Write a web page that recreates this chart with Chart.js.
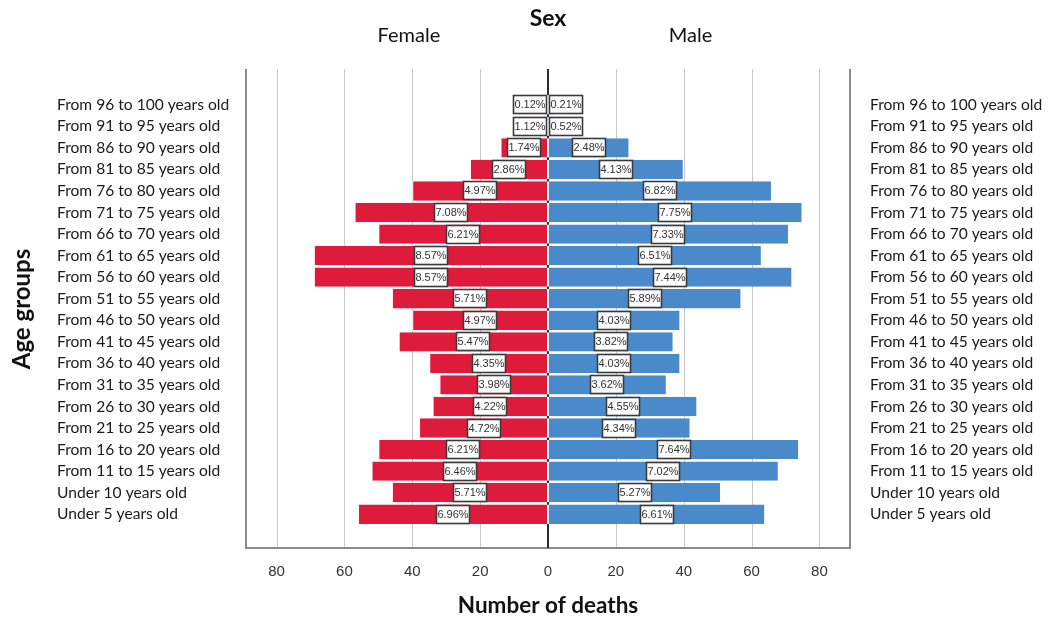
<!DOCTYPE html>
<html><head><meta charset="utf-8">
<script src="https://cdn.jsdelivr.net/npm/chart.js@4.4.1/dist/chart.umd.min.js"></script>
<style>html,body{margin:0;padding:0;background:#fff}#wrap{width:1052px;height:618px}</style>
</head><body><div id="wrap"><canvas id="c" width="1052" height="618"></canvas></div>
<script>
const ageGroups = [
  "From 96 to 100 years old","From 91 to 95 years old","From 86 to 90 years old",
  "From 81 to 85 years old","From 76 to 80 years old","From 71 to 75 years old",
  "From 66 to 70 years old","From 61 to 65 years old","From 56 to 60 years old",
  "From 51 to 55 years old","From 46 to 50 years old","From 41 to 45 years old",
  "From 36 to 40 years old","From 31 to 35 years old","From 26 to 30 years old",
  "From 21 to 25 years old","From 16 to 20 years old","From 11 to 15 years old",
  "Under 10 years old","Under 5 years old"
];
const femaleDeaths = [1, 9, 14, 23, 40, 57, 50, 69, 69, 46, 40, 44, 35, 32, 34, 38, 50, 52, 46, 56];
const maleDeaths   = [2, 5, 24, 40, 66, 75, 71, 63, 72, 57, 39, 37, 39, 35, 44, 42, 74, 68, 51, 64];
const femalePct = ["0.12%","1.12%","1.74%","2.86%","4.97%","7.08%","6.21%","8.57%","8.57%","5.71%",
                   "4.97%","5.47%","4.35%","3.98%","4.22%","4.72%","6.21%","6.46%","5.71%","6.96%"];
const malePct   = ["0.21%","0.52%","2.48%","4.13%","6.82%","7.75%","7.33%","6.51%","7.44%","5.89%",
                   "4.03%","3.82%","4.03%","3.62%","4.55%","4.34%","7.64%","7.02%","5.27%","6.61%"];
const xTickValues = [-80, -60, -40, -20, 0, 20, 40, 60, 80];
const sexLabels = ["Female", "Male"];
const chartTitle = "Sex";
const xTitle = "Number of deaths";
const yTitle = "Age groups";

const FONT = 'Lato, "Open Sans", sans-serif';
const FRAME_TOP = 69, FRAME_BOTTOM = 548;

const decor = {
  id: 'decor',
  beforeDatasetsDraw(chart) {
    const {ctx, chartArea, scales: {x}} = chart;
    ctx.save();
    ctx.strokeStyle = '#c8c8c8'; ctx.lineWidth = 1;
    xTickValues.forEach(v => {
      if (v === 0) return;
      const px = Math.round(x.getPixelForValue(v)) + 0.5;
      ctx.beginPath(); ctx.moveTo(px, FRAME_TOP); ctx.lineTo(px, FRAME_BOTTOM); ctx.stroke();
    });
    ctx.strokeStyle = '#8a8a8a'; ctx.lineWidth = 2;
    ctx.beginPath();
    ctx.moveTo(chartArea.left, FRAME_TOP); ctx.lineTo(chartArea.left, FRAME_BOTTOM);
    ctx.lineTo(chartArea.right, FRAME_BOTTOM); ctx.lineTo(chartArea.right, FRAME_TOP);
    ctx.stroke();
    const zx = x.getPixelForValue(0);
    ctx.strokeStyle = '#2b2b2b'; ctx.lineWidth = 2;
    ctx.beginPath(); ctx.moveTo(zx, FRAME_TOP); ctx.lineTo(zx, FRAME_BOTTOM); ctx.stroke();
    ctx.restore();
  },
  afterDatasetsDraw(chart) {
    const {ctx} = chart;
    const W = 34, H = 19;
    ctx.save();
    ctx.font = '11px "Liberation Sans Narrow", "Arial Narrow", "Liberation Sans", sans-serif';
    ctx.textAlign = 'center'; ctx.textBaseline = 'middle';
    [femalePct, malePct].forEach((pcts, di) => {
      const meta = chart.getDatasetMeta(di);
      meta.data.forEach((bar, i) => {
        let cx = (bar.x + bar.base) / 2;
        if (di === 0) cx = Math.min(cx, bar.base - 1 - W / 2);
        else cx = Math.max(cx, bar.base + 1 + W / 2);
        const left = Math.round(cx - W / 2), top = Math.round(bar.y - H / 2);
        ctx.fillStyle = '#ffffff';
        ctx.fillRect(left, top, W, H);
        ctx.strokeStyle = '#3a3a3a'; ctx.lineWidth = 1.6;
        ctx.strokeRect(left + 0.5, top + 0.5, W - 1, H - 1);
        ctx.fillStyle = '#333';
        ctx.fillText(pcts[i], left + W / 2, top + H / 2 + 0.5);
      });
    });
    ctx.restore();
  },
  afterDraw(chart) {
    const {ctx, scales: {x}} = chart;
    const zx = x.getPixelForValue(0);
    ctx.save();
    ctx.fillStyle = '#111';
    ctx.textAlign = 'center'; ctx.textBaseline = 'middle';
    ctx.font = 'bold 23px ' + FONT;
    ctx.fillText(chartTitle, zx, 19);
    ctx.font = '20px ' + FONT;
    ctx.fillText(sexLabels[0], x.getPixelForValue(-41), 36);
    ctx.fillText(sexLabels[1], x.getPixelForValue(42), 36);
    ctx.font = 'bold 22.5px ' + FONT;
    ctx.fillText(xTitle, zx, 606);
    ctx.font = 'bold 24px ' + FONT;
    ctx.translate(22, 309); ctx.rotate(-Math.PI / 2);
    ctx.fillText(yTitle, 0, 0);
    ctx.restore();
  }
};

new Chart(document.getElementById('c'), {
  type: 'bar',
  data: {
    labels: ageGroups,
    datasets: [
      { label: sexLabels[0], data: femaleDeaths.map(v => -v), backgroundColor: '#df1b3b' },
      { label: sexLabels[1], data: maleDeaths, backgroundColor: '#4a8acb' }
    ]
  },
  options: {
    indexAxis: 'y',
    responsive: false,
    animation: false,
    devicePixelRatio: 1,
    layout: { padding: { left: 57, right: 0, top: 94, bottom: 0 } },
    datasets: { bar: {
      barPercentage: 0.9, categoryPercentage: 1,
      borderColor: '#ffffff', borderWidth: {left: 1, right: 1, top: 0, bottom: 0}, borderSkipped: false
    } },
    plugins: { legend: { display: false }, tooltip: { enabled: false }, title: { display: false } },
    scales: {
      x: {
        type: 'linear', stacked: true, min: -89, max: 89,
        grid: { display: false }, border: { display: false },
        afterBuildTicks: s => { s.ticks = xTickValues.map(v => ({ value: v })); },
        afterFit: s => { s.height = 93; },
        ticks: { callback: v => Math.abs(v), padding: 30, color: '#333',
                 font: { family: '"Liberation Sans", Arial, sans-serif', size: 15 } }
      },
      y: {
        type: 'category', stacked: true, position: 'left', offset: true,
        grid: { display: false }, border: { display: false },
        afterFit: s => { s.width = 189; },
        ticks: { crossAlign: 'far', color: '#1a1a1a', autoSkip: false, font: { family: FONT, size: 15.6 } }
      },
      y2: {
        type: 'category', labels: ageGroups, position: 'right', offset: true,
        grid: { display: false }, border: { display: false },
        afterFit: s => { s.width = 202; },
        ticks: { crossAlign: 'near', padding: 12, color: '#1a1a1a', autoSkip: false, font: { family: FONT, size: 15.6 } }
      }
    }
  },
  plugins: [decor]
});
</script></body></html>
